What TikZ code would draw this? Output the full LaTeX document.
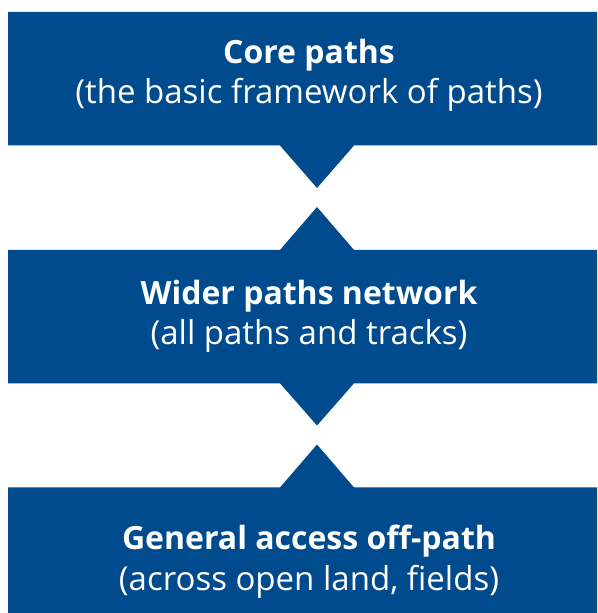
\documentclass[tikz,border=0pt]{standalone}
\usepackage{fontspec}
\setmainfont{Open Sans}
\definecolor{pathblue}{RGB}{0,75,141}
\begin{document}
\begin{tikzpicture}[x=1pt,y=1pt,
  tier/.style={fill=pathblue},
  tiertitle/.style={anchor=base, text=white, inner sep=0pt,
    font=\fontsize{32}{38}\selectfont\bfseries},
  tiersub/.style={anchor=base, text=white, inner sep=0pt,
    font=\fontsize{33}{38}\selectfont}]
\useasboundingbox (0,0) rectangle (597,613);
% top tier, pointing down
\fill[tier] (8,601) -- (597,601) -- (597,467.5) -- (354,467.5) -- (317,425)
  -- (280,467.5) -- (8,467.5) -- cycle;
% middle tier, notched at the top, pointing down
\fill[tier] (8,363) -- (280,363) -- (317,406) -- (354,363) -- (597,363)
  -- (597,229.7) -- (354,229.7) -- (317,187.5) -- (280,229.7) -- (8,229.7) -- cycle;
% bottom tier, notched at the top
\fill[tier] (8,125.5) -- (280,125.5) -- (317,168.5) -- (354,125.5) -- (597,125.5)
  -- (597,0) -- (8,0) -- cycle;
% labels
\node[tiertitle] (coreT) at (309,549.7) {Core paths};
\node[tiersub] (coreS) at (309,509) {(the basic framework of paths)};
\node[tiertitle] (widerT) at (309,308.7) {Wider paths network};
\node[tiersub] (widerS) at (309,268) {(all paths and tracks)};
\node[tiertitle] (offT) at (309,63.7) {General access off-path};
\node[tiersub] (offS) at (309,23) {(across open land, fields)};
\end{tikzpicture}
\end{document}
